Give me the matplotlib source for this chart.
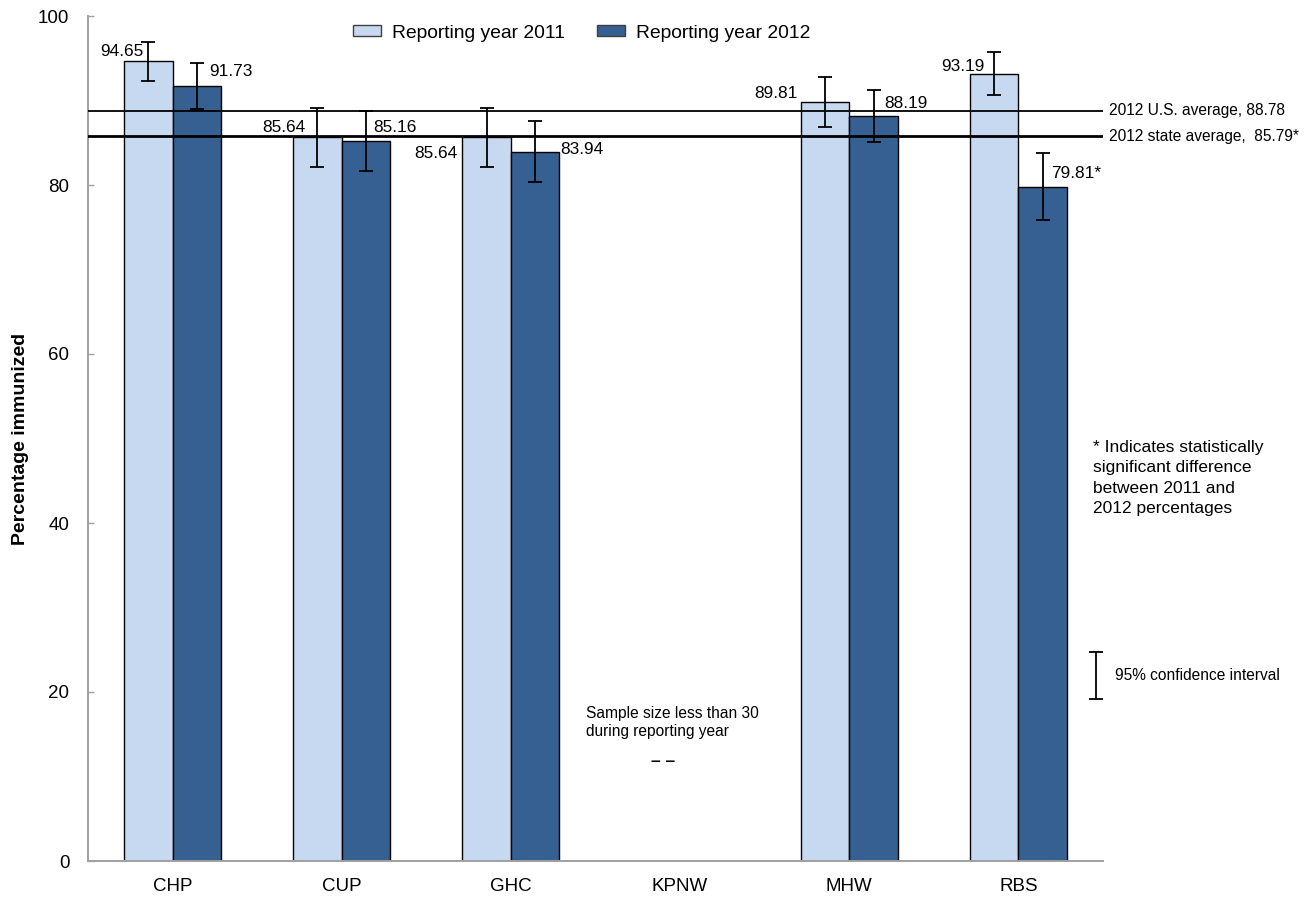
import numpy as np
import matplotlib
matplotlib.use("Agg")
import matplotlib.pyplot as plt
from matplotlib.patches import Patch

plt.rcParams['font.family'] = ['Liberation Sans', 'DejaVu Sans']

# ---- data -------------------------------------------------------------
plans = ["CHP", "CUP", "GHC", "KPNW", "MHW", "RBS"]
rate_2011 = [94.65, 85.64, 85.64, np.nan, 89.81, 93.19]
rate_2012 = [91.73, 85.16, 83.94, np.nan, 88.19, 79.81]
ci_2011 = [2.3, 3.5, 3.5, np.nan, 3.0, 2.55]
ci_2012 = [2.75, 3.55, 3.6, np.nan, 3.1, 4.0]
significant_2012 = [False, False, False, False, False, True]
us_average = 88.78
state_average = 85.79

# ---- label placement (pixel offsets from bar centre / bar top) --------
offsets_2011 = [(-4.5, 5), (-12, 5), (-29, -21), (0, 0), (-27, 4), (-10, 3)]
offsets_2012 = [(12, 10), (7, 9), (25, -2), (0, 0), (11, 8), (8, 9)]

LIGHT = "#C6D9F1"
DARK = "#366092"
GRAY = "#A0A0A0"

fig = plt.figure(figsize=(13.16, 8.99), dpi=100)
ax = fig.add_axes([88 / 1316, 38 / 899, 1015 / 1316, 845 / 899])

x = np.arange(len(plans))
w = 0.287

err_kw = dict(ecolor="black", elinewidth=1.3, capsize=5, capthick=1.3)
ax.bar(x - w / 2, rate_2011, w, color=LIGHT, edgecolor="black", linewidth=1.0,
       yerr=ci_2011, error_kw=err_kw, label="Reporting year 2011", zorder=2)
ax.bar(x + w / 2, rate_2012, w, color=DARK, edgecolor="black", linewidth=1.0,
       yerr=ci_2012, error_kw=err_kw, label="Reporting year 2012", zorder=2)

# reference lines
ax.axhline(us_average, color="black", linewidth=1.3, zorder=3)
ax.axhline(state_average, color="black", linewidth=2.0, zorder=3)
ax.annotate(f"2012 U.S. average, {us_average:.2f}", xy=(1, us_average),
            xycoords=("axes fraction", "data"), xytext=(6, 0),
            textcoords="offset pixels", ha="left", va="center",
            fontsize=11.2, annotation_clip=False)
ax.annotate(f"2012 state average,  {state_average:.2f}*", xy=(1, state_average),
            xycoords=("axes fraction", "data"), xytext=(6, 0),
            textcoords="offset pixels", ha="left", va="center",
            fontsize=11.2, annotation_clip=False)

# value labels
for i in range(len(plans)):
    if not np.isnan(rate_2011[i]):
        dx, dy = offsets_2011[i]
        ax.annotate(f"{rate_2011[i]:.2f}", xy=(x[i] - w / 2, rate_2011[i]),
                    xytext=(dx, dy), textcoords="offset pixels",
                    ha="right", va="baseline", fontsize=12.4, zorder=5)
    if not np.isnan(rate_2012[i]):
        dx, dy = offsets_2012[i]
        txt = f"{rate_2012[i]:.2f}" + ("*" if significant_2012[i] else "")
        ax.annotate(txt, xy=(x[i] + w / 2, rate_2012[i]),
                    xytext=(dx, dy), textcoords="offset pixels",
                    ha="left", va="baseline", fontsize=12.4, zorder=5)

# note for the plan without enough data
ax.text(3 - 0.556, 18.4, "Sample size less than 30\nduring reporting year",
        ha="left", va="top", fontsize=11.2, linespacing=1.25)
ax.text(2.90, 11.8, "\u2013 \u2013", ha="center", va="center", fontsize=12.5,
        fontweight="bold")

# confidence-interval key
ax.errorbar([5.458], [21.95], yerr=[2.78], fmt="none", ecolor="black",
            elinewidth=1.3, capsize=5, capthick=1.3, clip_on=False)
fig.text(1115 / 1316, 1 - 675 / 899, "95% confidence interval",
         ha="left", va="center", fontsize=11.2)
fig.text(1093 / 1316, 1 - 440 / 899,
         "* Indicates statistically\nsignificant difference\nbetween 2011 and\n2012 percentages",
         ha="left", va="top", fontsize=12.5, linespacing=1.45)

# axes styling
ax.set_xlim(-0.5, len(plans) - 0.5)
ax.set_ylim(0, 100)
ax.set_yticks([0, 20, 40, 60, 80, 100])
ax.set_xticks(x)
ax.set_xticklabels(plans)
ax.tick_params(axis="y", direction="in", length=4, width=1, color=GRAY,
               labelsize=13.5, pad=13.5)
ax.tick_params(axis="x", length=0, labelsize=13.5, pad=12)
for s in ("top", "right"):
    ax.spines[s].set_visible(False)
for s in ("left", "bottom"):
    ax.spines[s].set_color(GRAY)
    ax.spines[s].set_linewidth(1.4)

ax.set_ylabel("Percentage immunized", fontsize=14, fontweight="bold")
ax.yaxis.set_label_coords(-0.058, 0.5)

handles = [Patch(facecolor=LIGHT, edgecolor="#404040", linewidth=1.0),
           Patch(facecolor=DARK, edgecolor="#404040", linewidth=1.0)]
fig.legend(handles, ["Reporting year 2011", "Reporting year 2012"],
           loc="center left", bbox_to_anchor=(353 / 1316, 1 - 33 / 899),
           ncol=2, frameon=False, fontsize=13.9, handlelength=1.45,
           handleheight=0.55, handletextpad=0.57, columnspacing=1.66,
           borderpad=0, borderaxespad=0)

fig.savefig("out.png", dpi=100)
